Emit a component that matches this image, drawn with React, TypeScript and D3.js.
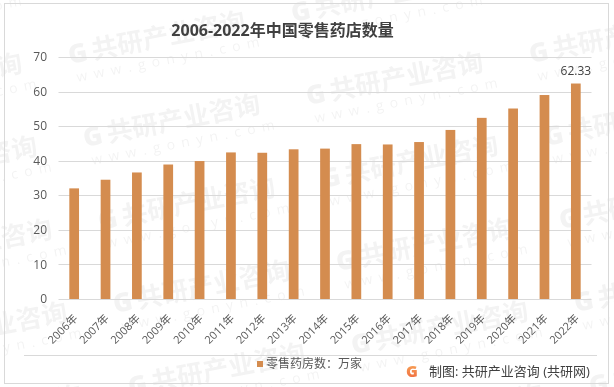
import React from "react";
import * as d3 from "d3";

const years = ["2006年","2007年","2008年","2009年","2010年","2011年","2012年","2013年","2014年","2015年","2016年","2017年","2018年","2019年","2020年","2021年","2022年"];
const stores = [32.0, 34.5, 36.6, 38.9, 39.9, 42.4, 42.3, 43.3, 43.5, 44.8, 44.7, 45.4, 48.9, 52.4, 55.1, 59.0, 62.33];
const yTicks = [0, 10, 20, 30, 40, 50, 60, 70];
const title = "2006-2022年中国零售药店数量";
const legendLabel = "零售药房数：万家";
const sourceLabel = "制图: 共研产业咨询 (共研网)";
const wmRows = [-2, -1, 0, 1, 2, 3, 4];
const wmCols = [-1, 0, 1, 2];

const W = 614;
const H = 387;
const FONT = '"Open Sans","Noto Sans CJK SC",sans-serif';
const BAR = "#D48C4F";

export default function App() {
  const x = d3.scaleBand<string>().domain(years).range([58.5, 591.5]).paddingInner(0.69).paddingOuter(0.345);
  const y = d3.scaleLinear().domain([0, 70]).range([299, 57]);
  const last = years.length - 1;

  const marks: { x: number; y: number; k: string }[] = [];
  wmRows.forEach((r) =>
    wmCols.forEach((c) => {
      marks.push({ x: 85 + 15 * r + 223 * c, y: 147 + 83 * r - 42 * c, k: `${r}_${c}` });
    })
  );

  return (
    <svg width={W} height={H} style={{ position: "absolute", left: 0, top: 0, background: "#fff" }} fontFamily={FONT}>
      <defs>
        <linearGradient id="logoGrad" x1="0" y1="0" x2="0" y2="1">
          <stop offset="0" stopColor="#F9B35E" />
          <stop offset="1" stopColor="#EF5F3A" />
        </linearGradient>
        <clipPath id="frame">
          <rect x={0} y={0} width={W} height={H} />
        </clipPath>
      </defs>
      <rect x={0} y={0} width={W} height={H} fill="#fff" />
      {/* watermark */}
      <g fill="#000" opacity={0.05} clipPath="url(#frame)">
        {marks.map((m) => (
          <g key={m.k} transform={`translate(${m.x},${m.y}) rotate(-11)`}>
            <text x={0} y={0} fontSize={26} fontWeight={900}>G</text>
            <text x={24} y={0} fontSize={26} fontWeight={700}>共研产业咨询</text>
            <text x={4} y={19} fontSize={14} letterSpacing={6.5}>www.gonyn.com</text>
          </g>
        ))}
      </g>
      <rect x={4.5} y={3.5} width={604} height={380} fill="none" stroke="#D9D9D9" strokeWidth={1} />
      <text x={282.5} y={36} textAnchor="middle" fontSize={16} fontWeight={700} fill="#404040">{title}</text>
      {/* grid + y labels */}
      {yTicks.map((t) => (
        <g key={t}>
          <line x1={58.5} x2={591.5} y1={Math.round(y(t)) + 0.5} y2={Math.round(y(t)) + 0.5} stroke="#D9D9D9" strokeWidth={1} />
          <text x={47} y={y(t)} dy="0.35em" textAnchor="end" fontSize={12} fill="#595959">{t}</text>
        </g>
      ))}
      {/* bars */}
      {years.map((yr, i) => (
        <rect key={yr} x={x(yr)!} y={y(stores[i])} width={x.bandwidth()} height={y(0) - y(stores[i])} fill={BAR} />
      ))}
      <text x={x(years[last])! + x.bandwidth() / 2} y={y(stores[last]) - 9} textAnchor="middle" fontSize={12} fill="#404040">{stores[last]}</text>
      {/* x labels */}
      {years.map((yr) => (
        <text key={yr} transform={`translate(${x(yr)! + x.bandwidth() / 2 + 4},${319}) rotate(-45)`} textAnchor="end" fontSize={11} fill="#595959">{yr}</text>
      ))}
      <line x1={24} x2={597} y1={355.5} y2={355.5} stroke="#D9D9D9" strokeWidth={1} />
      {/* legend */}
      <rect x={257} y={361} width={6} height={6} fill={BAR} />
      <text x={266} y={364} dy="0.35em" fontSize={12} fill="#595959">{legendLabel}</text>
      {/* source */}
      <text x={406} y={377} fontSize={16} fontWeight={900} fill="url(#logoGrad)">G</text>
      <text x={429} y={371} dy="0.35em" fontSize={13} fill="#404040">{sourceLabel}</text>
    </svg>
  );
}
